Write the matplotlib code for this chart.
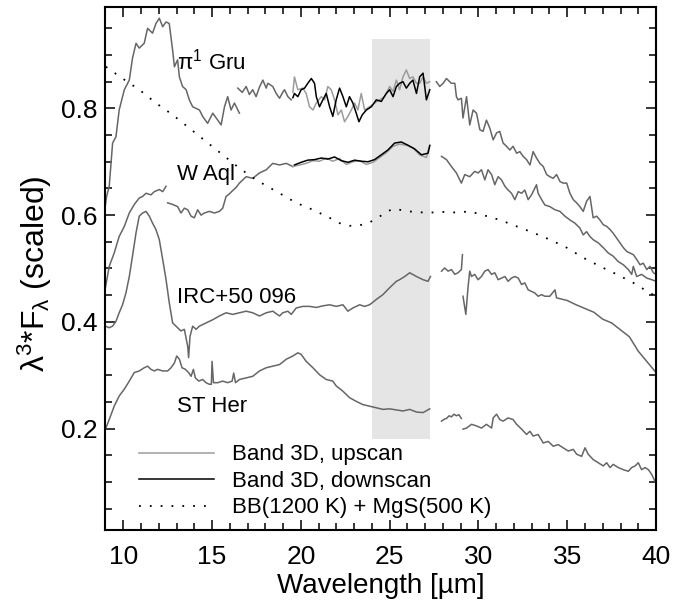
import matplotlib
matplotlib.use("Agg")
import matplotlib.pyplot as plt
from matplotlib.ticker import MultipleLocator

plt.rcParams['font.family'] = ['Liberation Sans', 'DejaVu Sans']
plt.rcParams['mathtext.fontset'] = 'custom'
plt.rcParams['mathtext.rm'] = 'Liberation Sans'
plt.rcParams['mathtext.it'] = 'Liberation Sans'
plt.rcParams['mathtext.default'] = 'regular'

# ---------------- data (wavelength in micron, scaled lambda^3 F_lambda) ----------------
# pi1 Gru
gru1_wl = [9.00, 9.06, 9.21, 9.40, 9.59, 9.77, 10.06, 10.34, 10.52, 10.72, 10.90, 11.18, 11.37, 11.65,
           11.84, 12.03, 12.22, 12.41, 12.59, 12.78, 12.88, 13.06, 13.16, 13.34, 13.54, 13.72, 13.91,
           14.29, 14.47, 14.75, 15.04, 15.32, 15.51, 15.70, 15.88, 16.07, 16.26, 16.54]
gru1_fx = [0.620, 0.635, 0.654, 0.735, 0.747, 0.797, 0.835, 0.853, 0.894, 0.922, 0.913, 0.922, 0.950, 0.941,
           0.959, 0.969, 0.953, 0.962, 0.959, 0.909, 0.878, 0.891, 0.859, 0.841, 0.835, 0.816, 0.803,
           0.797, 0.785, 0.772, 0.791, 0.778, 0.769, 0.803, 0.822, 0.797, 0.810, 0.791]
gru2_wl = [16.45, 16.70, 16.92, 17.10, 17.29, 17.48, 17.67, 17.86, 18.05, 18.14, 18.42, 18.61, 18.80,
           18.98, 19.08, 19.27, 19.46]
gru2_fx = [0.838, 0.830, 0.841, 0.826, 0.835, 0.822, 0.840, 0.853, 0.838, 0.847, 0.841, 0.828, 0.819,
           0.830, 0.835, 0.822, 0.816]
gru_down_wl = [19.55, 19.64, 19.83, 20.02, 20.21, 20.39, 20.59, 20.77, 20.87, 21.05, 21.24, 21.43, 21.62, 21.80,
               21.99, 22.18, 22.37, 22.56, 22.74, 22.93, 23.12, 23.27, 23.46, 23.69, 23.97, 24.25,
               24.53, 24.81, 25.00, 25.19, 25.38, 25.56, 25.75, 25.94, 26.13, 26.31, 26.51, 26.69,
               26.88, 27.07, 27.26]
gru_down_fx = [0.820, 0.828, 0.822, 0.835, 0.838, 0.847, 0.856, 0.847, 0.822, 0.803, 0.816, 0.828, 0.803, 0.785,
               0.816, 0.838, 0.822, 0.803, 0.822, 0.810, 0.791, 0.775, 0.788, 0.797, 0.803, 0.816,
               0.813, 0.828, 0.835, 0.822, 0.841, 0.847, 0.850, 0.838, 0.847, 0.853, 0.828, 0.859,
               0.866, 0.816, 0.835]
gru_up_wl = [19.55, 19.64, 19.83, 20.11, 20.30, 20.49, 20.68, 20.87, 21.15, 21.34, 21.52, 21.71, 21.90, 22.09,
             22.28, 22.46, 22.65, 22.84, 23.03, 23.21, 23.40, 23.59, 23.87, 24.15, 24.44, 24.72,
             25.00, 25.19, 25.38, 25.56, 25.75, 25.94, 26.13, 26.31, 26.51, 26.69, 26.88, 27.07, 27.26]
gru_up_fx = [0.830, 0.859, 0.835, 0.838, 0.828, 0.803, 0.797, 0.810, 0.822, 0.816, 0.841, 0.835, 0.816, 0.788,
             0.797, 0.775, 0.785, 0.797, 0.810, 0.797, 0.828, 0.797, 0.803, 0.810, 0.816, 0.822,
             0.841, 0.832, 0.853, 0.835, 0.859, 0.872, 0.856, 0.859, 0.847, 0.847, 0.859, 0.847, 0.850]
gru3_wl = [27.63, 27.82, 28.01, 28.20, 28.38, 28.48, 28.67, 28.76, 28.85, 29.04, 29.13, 29.33, 29.51,
           29.70, 29.89, 30.08, 30.26, 30.45, 30.64, 30.83, 31.02, 31.20, 31.39, 31.58, 31.77, 31.95,
           32.15, 32.33, 32.52, 32.71, 32.90, 33.08, 33.27, 33.46, 33.65, 33.84, 34.02, 34.21, 34.40,
           34.59, 34.77, 34.97, 35.15, 35.34, 35.53, 35.71, 35.90, 36.09, 36.28, 36.46, 36.66, 36.84,
           37.03, 37.22, 37.41, 37.59, 37.78, 37.97, 38.16, 38.35, 38.53, 38.72, 38.91, 39.10, 39.28,
           39.48, 39.66, 39.85, 40.00]
gru3_fx = [0.850, 0.841, 0.847, 0.856, 0.850, 0.847, 0.847, 0.822, 0.816, 0.819, 0.782, 0.822, 0.769,
           0.797, 0.791, 0.760, 0.757, 0.778, 0.763, 0.741, 0.754, 0.757, 0.735, 0.729, 0.722, 0.729,
           0.716, 0.719, 0.710, 0.704, 0.694, 0.719, 0.707, 0.697, 0.691, 0.676, 0.672, 0.669, 0.676,
           0.663, 0.660, 0.660, 0.641, 0.629, 0.623, 0.616, 0.607, 0.626, 0.635, 0.595, 0.598, 0.591,
           0.582, 0.579, 0.573, 0.566, 0.557, 0.548, 0.539, 0.532, 0.529, 0.526, 0.517, 0.507, 0.510,
           0.498, 0.504, 0.492, 0.489]

# W Aql
waql1_wl = [9.00, 9.21, 9.49, 9.77, 10.06, 10.34, 10.62, 10.90, 11.09, 11.28, 11.56, 11.75, 12.03, 12.22, 12.41]
waql1_fx = [0.465, 0.504, 0.529, 0.560, 0.579, 0.604, 0.620, 0.632, 0.635, 0.641, 0.638, 0.644, 0.648, 0.644, 0.654]
waql2_wl = [12.50, 12.78, 13.06, 13.25, 13.44, 13.63, 13.82, 14.00, 14.19, 14.38, 14.57, 14.85, 15.13,
            15.41, 15.60, 15.79, 15.98, 16.16, 16.36, 16.54, 16.92, 17.29, 17.67, 18.05, 18.42, 18.80,
            19.18, 19.55]
waql2_fx = [0.623, 0.620, 0.616, 0.604, 0.613, 0.610, 0.598, 0.595, 0.610, 0.600, 0.604, 0.607, 0.604,
            0.607, 0.613, 0.635, 0.640, 0.646, 0.652, 0.660, 0.672, 0.669, 0.679, 0.685, 0.697, 0.694,
            0.697, 0.691]
waql_up_wl = [19.55, 19.93, 20.30, 20.68, 21.05, 21.43, 21.80, 22.18, 22.56, 22.93, 23.31, 23.69, 24.06,
              24.44, 24.81, 25.19, 25.56, 25.94, 26.31, 26.69, 27.07, 27.26]
waql_up_fx = [0.691, 0.694, 0.697, 0.702, 0.701, 0.707, 0.701, 0.706, 0.695, 0.700, 0.702, 0.695, 0.699,
              0.708, 0.717, 0.729, 0.733, 0.731, 0.726, 0.713, 0.708, 0.732]
waql_dn_wl = [19.64, 20.02, 20.39, 20.77, 21.15, 21.52, 21.90, 22.28, 22.65, 23.03, 23.40, 23.78, 24.15,
              24.53, 24.90, 25.28, 25.66, 26.03, 26.41, 26.79, 27.16, 27.26]
waql_dn_fx = [0.694, 0.699, 0.703, 0.704, 0.707, 0.705, 0.709, 0.702, 0.699, 0.703, 0.701, 0.700, 0.704,
              0.713, 0.722, 0.735, 0.737, 0.731, 0.724, 0.713, 0.716, 0.730]
waql3_wl = [27.92, 28.20, 28.48, 28.76, 29.04, 29.23, 29.51, 29.79, 29.98, 30.17, 30.36, 30.54, 30.74,
            30.92, 31.11, 31.30, 31.49, 31.67, 31.86, 32.05, 32.24, 32.43, 32.61, 32.80, 32.99, 33.27,
            33.36, 33.56, 33.74, 34.02, 34.31, 34.59, 34.87, 35.15, 35.43, 35.71, 35.90, 36.09, 36.28,
            36.46, 36.75, 37.03, 37.31, 37.59, 37.87, 38.16, 38.44, 38.63, 38.72, 38.91, 39.19, 39.48,
            39.76, 40.00]
waql3_fx = [0.710, 0.704, 0.691, 0.679, 0.660, 0.676, 0.672, 0.682, 0.679, 0.685, 0.666, 0.685, 0.676,
            0.657, 0.672, 0.666, 0.654, 0.647, 0.641, 0.629, 0.644, 0.641, 0.647, 0.629, 0.638, 0.657,
            0.641, 0.629, 0.619, 0.616, 0.610, 0.607, 0.598, 0.591, 0.585, 0.576, 0.563, 0.569, 0.560,
            0.554, 0.548, 0.539, 0.529, 0.523, 0.513, 0.507, 0.498, 0.489, 0.504, 0.485, 0.489, 0.482,
            0.479, 0.476]

# IRC+50 096
irc1_wl = [9.00, 9.21, 9.40, 9.59, 9.77, 9.96, 10.15, 10.34, 10.52, 10.72, 10.90, 11.09, 11.28, 11.47,
           11.65, 11.84, 12.03, 12.22, 12.41, 12.59, 12.78, 13.06, 13.25, 13.44, 13.63, 13.68, 13.76,
           13.91, 14.10, 14.29, 14.66, 15.04, 15.41, 15.79, 16.16, 16.54, 16.92, 17.29, 17.67, 18.05,
           18.42, 18.80, 18.98, 19.27, 19.46, 19.74, 20.11, 20.49, 20.87, 21.24, 21.62, 21.99, 22.37,
           22.65, 22.93, 23.31, 23.59, 23.87, 24.25, 24.62, 25.00, 25.38, 25.56, 25.85, 26.13, 26.51,
           26.88, 27.16, 27.30]
irc1_fx = [0.392, 0.389, 0.392, 0.401, 0.417, 0.432, 0.454, 0.485, 0.523, 0.567, 0.598, 0.604, 0.607, 0.598,
           0.585, 0.573, 0.554, 0.517, 0.479, 0.436, 0.398, 0.389, 0.383, 0.386, 0.354, 0.333, 0.373,
           0.392, 0.386, 0.392, 0.398, 0.404, 0.411, 0.417, 0.414, 0.417, 0.420, 0.417, 0.411, 0.417,
           0.420, 0.411, 0.417, 0.420, 0.414, 0.426, 0.429, 0.429, 0.427, 0.430, 0.432, 0.429, 0.432,
           0.420, 0.426, 0.432, 0.429, 0.432, 0.442, 0.451, 0.464, 0.476, 0.479, 0.485, 0.492, 0.485,
           0.479, 0.476, 0.485]
irc2_wl = [27.92, 28.10, 28.29, 28.48, 28.67, 28.85, 29.04, 29.10]
irc2_fx = [0.495, 0.501, 0.495, 0.498, 0.489, 0.492, 0.498, 0.526]
irc3_wl = [29.13, 29.29, 29.42, 29.51, 29.61, 29.79, 29.98, 30.17, 30.36, 30.54, 30.74, 30.92, 31.11,
           31.30, 31.49, 31.67, 31.86, 32.05, 32.24, 32.43, 32.61, 32.80, 32.99, 33.18, 33.36, 33.56,
           33.74, 34.02, 34.31, 34.40, 35.00, 35.50, 36.00, 36.50, 37.00, 37.50, 38.00, 38.50, 39.00,
           39.50, 40.00]
irc3_fx = [0.448, 0.414, 0.467, 0.495, 0.485, 0.489, 0.479, 0.485, 0.495, 0.498, 0.489, 0.492, 0.479,
           0.482, 0.485, 0.476, 0.482, 0.485, 0.482, 0.470, 0.473, 0.460, 0.457, 0.454, 0.448, 0.451,
           0.448, 0.448, 0.460, 0.445, 0.440, 0.432, 0.425, 0.418, 0.405, 0.398, 0.385, 0.372, 0.345,
           0.325, 0.305]

# ST Her
sther1_wl = [9.02, 9.21, 9.49, 9.77, 10.06, 10.34, 10.62, 10.90, 11.18, 11.37, 11.56, 11.75, 11.93, 12.22,
             12.50, 12.69, 12.88, 13.01, 13.16, 13.31, 13.50, 13.68, 13.82, 13.95, 14.06, 14.25, 14.47,
             14.66, 14.85, 14.96, 15.00, 15.08, 15.32, 15.60, 15.88, 16.13, 16.22, 16.32, 16.54, 16.92,
             17.29, 17.67, 18.05, 18.42, 18.80, 19.18, 19.55, 19.83, 20.02, 20.30, 20.68, 21.05, 21.43,
             21.80, 21.99, 22.37, 22.74, 23.12, 23.49, 23.87, 24.25, 24.62, 25.00, 25.38, 25.75, 26.13,
             26.51, 26.88, 27.26]
sther1_fx = [0.201, 0.217, 0.242, 0.261, 0.274, 0.289, 0.305, 0.308, 0.314, 0.317, 0.311, 0.308, 0.311, 0.308,
             0.308, 0.314, 0.323, 0.336, 0.330, 0.314, 0.311, 0.305, 0.298, 0.311, 0.295, 0.289, 0.292,
             0.286, 0.283, 0.283, 0.326, 0.286, 0.286, 0.289, 0.286, 0.289, 0.304, 0.286, 0.292, 0.295,
             0.298, 0.308, 0.314, 0.317, 0.320, 0.330, 0.336, 0.342, 0.339, 0.326, 0.314, 0.301, 0.292,
             0.289, 0.280, 0.270, 0.258, 0.251, 0.245, 0.242, 0.239, 0.236, 0.237, 0.235, 0.233, 0.236,
             0.231, 0.230, 0.237]
sther2_wl = [27.92, 28.10, 28.20, 28.35, 28.48, 28.62, 28.76, 28.90, 29.04]
sther2_fx = [0.214, 0.218, 0.219, 0.224, 0.222, 0.227, 0.224, 0.226, 0.219]
sther3_wl = [29.13, 29.33, 29.61, 29.89, 30.17, 30.45, 30.74, 30.83, 31.02, 31.20, 31.39, 31.67, 31.95,
             32.15, 32.43, 32.71, 32.90, 33.08, 33.36, 33.65, 33.93, 34.21, 34.49, 34.77, 35.06, 35.34,
             35.53, 35.81, 36.00, 36.18, 36.46, 36.75, 37.03, 37.22, 37.41, 37.59, 37.87, 38.16, 38.44,
             38.63, 38.82, 39.00, 39.19, 39.38, 39.57, 39.76, 39.94]
sther3_fx = [0.199, 0.201, 0.208, 0.205, 0.201, 0.208, 0.201, 0.220, 0.227, 0.217, 0.214, 0.220, 0.217,
             0.208, 0.199, 0.189, 0.195, 0.186, 0.189, 0.173, 0.176, 0.167, 0.170, 0.164, 0.158, 0.161,
             0.152, 0.148, 0.164, 0.152, 0.142, 0.136, 0.130, 0.136, 0.127, 0.133, 0.127, 0.123, 0.120,
             0.127, 0.130, 0.136, 0.123, 0.127, 0.123, 0.114, 0.101]

# BB(1200 K) + MgS(500 K) model
model_wl = [9.02, 9.96, 10.90, 11.84, 12.78, 13.72, 14.66, 15.60, 16.54, 17.48, 18.80, 19.74, 20.68, 21.62,
            22.18, 22.75, 23.31, 23.78, 24.25, 24.72, 25.19, 25.75, 26.32, 26.88, 27.45, 28.01, 28.57,
            29.14, 29.51, 30.27, 31.21, 32.15, 33.09, 34.03, 34.97, 35.91, 36.85, 37.79, 38.73, 39.66, 40.00]
model_fx = [0.878, 0.856, 0.835, 0.810, 0.788, 0.763, 0.738, 0.713, 0.688, 0.666, 0.641, 0.623, 0.610, 0.595,
            0.585, 0.580, 0.581, 0.585, 0.593, 0.604, 0.612, 0.609, 0.606, 0.605, 0.605, 0.606, 0.605,
            0.606, 0.607, 0.600, 0.591, 0.579, 0.567, 0.554, 0.539, 0.520, 0.504, 0.489, 0.473, 0.454, 0.448]

star_names = ['$\\pi^1$ Gru', 'W Aql', 'IRC+50 096', 'ST Her']
star_label_x = [13.05, 13.05, 13.05, 13.05]
star_label_y = [0.888, 0.676, 0.445, 0.242]

band_x = [24.0, 27.3]
band_y = [0.18, 0.93]

legend_labels = ['Band 3D, upscan', 'Band 3D, downscan', 'BB(1200 K) + MgS(500 K)']

# ---------------- plotting ----------------
SPEC = '#666666'
UP = '#9c9c9c'
LW = 1.1

fig = plt.figure(figsize=(6.78, 6.08), dpi=100)
ax = fig.add_axes([0.1556, 0.1283, 0.8120, 0.8602])

ax.fill_between(band_x, band_y[0], band_y[1], color='#e5e5e5', lw=0, zorder=0)

for wl, fx in [(gru1_wl, gru1_fx), (gru2_wl, gru2_fx), (gru3_wl, gru3_fx),
               (waql1_wl, waql1_fx), (waql2_wl, waql2_fx), (waql3_wl, waql3_fx),
               (irc1_wl, irc1_fx), (irc2_wl, irc2_fx), (irc3_wl, irc3_fx),
               (sther1_wl, sther1_fx), (sther2_wl, sther2_fx), (sther3_wl, sther3_fx)]:
    ax.plot(wl, fx, color=SPEC, lw=LW, zorder=2)

h_up, = ax.plot(gru_up_wl, gru_up_fx, color=UP, lw=LW, zorder=3)
ax.plot(waql_up_wl, waql_up_fx, color=UP, lw=LW, zorder=3)
h_dn, = ax.plot(gru_down_wl, gru_down_fx, color='black', lw=LW, zorder=4)
ax.plot(waql_dn_wl, waql_dn_fx, color='black', lw=LW, zorder=4)
h_bb, = ax.plot(model_wl, model_fx, color='black', lw=1.3, linestyle=(0, (1, 5)), zorder=2)

for name, x, y in zip(star_names, star_label_x, star_label_y):
    ax.text(x, y, name, fontsize=16, ha='left', va='center', zorder=5)

ax.set_xlim(9, 40)
ax.set_ylim(0.01, 0.99)
ax.xaxis.set_major_locator(MultipleLocator(5))
ax.xaxis.set_minor_locator(MultipleLocator(1))
ax.yaxis.set_major_locator(MultipleLocator(0.2))
ax.yaxis.set_minor_locator(MultipleLocator(0.05))
ax.tick_params(which='both', direction='in', top=True, right=True, width=1.1, labelsize=19)
ax.tick_params(which='major', length=7.5)
ax.tick_params(which='minor', length=4.8)
ax.tick_params(axis='x', pad=11)
ax.tick_params(axis='y', pad=6)
for s in ax.spines.values():
    s.set_linewidth(1.5)

ax.set_xlabel('Wavelength [\u00b5m]', fontsize=20, labelpad=3)
ax.set_ylabel('$\\lambda^3$*F$_\\lambda$ (scaled)', fontsize=23)
ax.yaxis.set_label_coords(-0.093, 0.49)

leg = ax.legend([h_up, h_dn, h_bb], legend_labels, loc='lower left', bbox_to_anchor=(0.06, 0.022),
                frameon=False, fontsize=16, handlelength=3.4, handletextpad=0.8, labelspacing=0.25,
                borderpad=0, borderaxespad=0)

fig.savefig('out.png', dpi=100)
